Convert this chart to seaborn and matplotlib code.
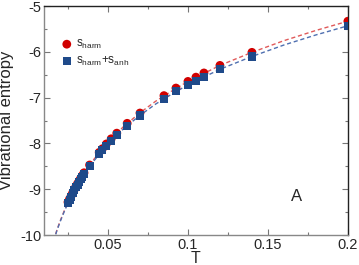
import numpy as np
import pandas as pd
import seaborn as sns
import matplotlib
matplotlib.use("Agg")
import matplotlib.pyplot as plt
from matplotlib.ticker import MultipleLocator

# data points
temps = [0.025, 0.026, 0.027, 0.028, 0.029, 0.030, 0.031, 0.032, 0.033, 0.034,
         0.035, 0.0385, 0.0445, 0.0465, 0.049, 0.052, 0.0555, 0.062, 0.070,
         0.085, 0.0925, 0.100, 0.105, 0.110, 0.120, 0.140, 0.200]
s_harm = [-9.28, -9.21, -9.14, -9.07, -9.00, -8.935, -8.875, -8.815, -8.755, -8.70,
          -8.64, -8.47, -8.195, -8.115, -8.01, -7.898, -7.775, -7.56, -7.335,
          -6.955, -6.79, -6.645, -6.552, -6.46, -6.295, -6.01, -5.33]
s_total = [-9.30, -9.23, -9.16, -9.09, -9.02, -8.96, -8.90, -8.84, -8.78, -8.73,
           -8.67, -8.50, -8.23, -8.15, -8.05, -7.94, -7.82, -7.61, -7.39,
           -7.02, -6.86, -6.72, -6.63, -6.54, -6.38, -6.10, -5.43]

# dashed fit curves
fit_temps = [0.016, 0.018, 0.02, 0.0225, 0.025, 0.03, 0.035, 0.04, 0.05, 0.06,
             0.07, 0.08, 0.09, 0.1, 0.12, 0.14, 0.16, 0.18, 0.2]
fit_harm = [-10.12, -9.898, -9.70, -9.483, -9.28, -8.935, -8.645, -8.397, -7.97, -7.622,
            -7.33, -7.073, -6.852, -6.645, -6.295, -6.01, -5.755, -5.532, -5.33]
fit_total = [-10.13, -9.91, -9.715, -9.50, -9.30, -8.96, -8.675, -8.43, -8.01, -7.67,
             -7.385, -7.135, -6.92, -6.72, -6.38, -6.10, -5.85, -5.63, -5.43]

sns.set_style("ticks")
plt.rcParams["font.family"] = ["Liberation Sans", "DejaVu Sans"]
plt.rcParams["mathtext.default"] = "regular"
plt.rcParams["axes.unicode_minus"] = False

fig = plt.figure(figsize=(3.59, 2.65), dpi=100)
ax = fig.add_axes([0.1226, 0.113, 0.8464, 0.864])

sns.lineplot(x=fit_temps, y=fit_harm, ax=ax, color="#e05a5a", lw=1.0,
             linestyle=(0, (3, 2)), zorder=1)
sns.lineplot(x=fit_temps, y=fit_total, ax=ax, color="#4f6fb0", lw=1.0,
             linestyle=(0, (3, 2)), zorder=1)

sns.scatterplot(x=temps, y=s_harm, ax=ax, color="#d00000", marker="o", s=40,
                edgecolor="none", zorder=3, label="$s_{harm}$")
sns.scatterplot(x=temps, y=s_total, ax=ax, color="#1f4a8a", marker="s", s=34,
                edgecolor="none", zorder=4, label="$s_{harm}$+$s_{anh}$")

ax.set_xlim(0.01, 0.2)
ax.set_ylim(-10, -5)
ax.xaxis.set_major_locator(MultipleLocator(0.05))
ax.xaxis.set_minor_locator(MultipleLocator(0.025))
ax.yaxis.set_major_locator(MultipleLocator(1))
ax.yaxis.set_minor_locator(MultipleLocator(0.5))
ax.set_xticks([0.05, 0.1, 0.15, 0.2])
ax.set_xticklabels(["0.05", "0.1", "0.15", "0.2"])
ax.tick_params(which="both", direction="in", top=True, right=True,
               labelsize=10.5, pad=2)
ax.tick_params(which="major", length=4, width=0.8, color="#777777")
ax.tick_params(which="minor", length=2.5, width=0.8, color="#777777")

for side in ["left", "bottom"]:
    ax.spines[side].set_color("#888888")
for side in ["top", "right"]:
    ax.spines[side].set_color("#222222")
for sp in ax.spines.values():
    sp.set_linewidth(1.0)

ax.set_xlabel("T", fontsize=11.5, va="top")
ax.xaxis.set_label_coords(0.5, -0.068)
ax.set_ylabel("Vibrational entropy", fontsize=12, labelpad=4)
ax.text(0.168, -9.15, "A", fontsize=12, ha="center", va="center")

ax.legend(loc="upper left", bbox_to_anchor=(0.04, 0.88), frameon=False,
          fontsize=8.5, handletextpad=0.3, labelspacing=0.3, borderaxespad=0,
          handlelength=1.0)

fig.savefig("out.png", dpi=100)
